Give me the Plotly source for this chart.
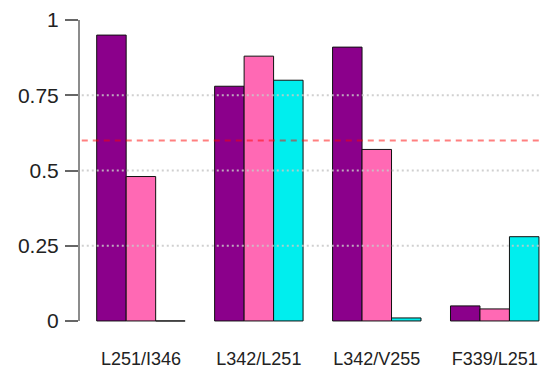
import plotly.graph_objects as go

# Pair labels and the three measured series
pairs = ["L251/I346", "L342/L251", "L342/V255", "F339/L251"]
series_a = [0.95, 0.78, 0.91, 0.05]
series_b = [0.48, 0.88, 0.57, 0.04]
series_c = [0.00, 0.80, 0.01, 0.28]
threshold = 0.60
y_ticks = [0, 0.25, 0.5, 0.75, 1]
y_tick_text = ["0", "0.25", "0.5", "0.75", "1"]
grid_levels = [0.25, 0.5, 0.75]

colors = ["#8B008B", "#FF69B4", "#00EEEE"]
offsets = [-1.5, -0.5, 0.5]

# group centres: 3 bars of width 1 plus a gap of 1 between groups
centers = [2.5 + 4 * i for i in range(len(pairs))]

fig = go.Figure()
for vals, col, off in zip([series_a, series_b, series_c], colors, offsets):
    fig.add_trace(go.Bar(
        x=centers, y=vals, width=1, offset=off,
        marker=dict(color=col, line=dict(color="#111111", width=1)),
        showlegend=False, hoverinfo="skip",
    ))

shapes = []
# dotted reference levels drawn over the bars
for g in grid_levels:
    shapes.append(dict(type="line", xref="paper", x0=0.006, x1=1, yref="y", y0=g, y1=g,
                       line=dict(color="rgba(200,200,200,0.85)", width=2, dash="2px,3px"),
                       layer="above"))
# threshold line
shapes.append(dict(type="line", xref="paper", x0=0.006, x1=1, yref="y", y0=threshold, y1=threshold,
                   line=dict(color="rgba(255,0,0,0.5)", width=2, dash="6px,5px"),
                   layer="above"))
# y axis spine spanning only the tick range
shapes.append(dict(type="line", xref="paper", x0=0, x1=0, yref="y", y0=y_ticks[0], y1=y_ticks[-1],
                   line=dict(color="#666666", width=1.5), layer="above"))

fig.update_layout(
    width=541, height=370,
    margin=dict(l=79, r=0, t=8, b=37),
    paper_bgcolor="white", plot_bgcolor="white",
    barmode="overlay",
    font=dict(family="Liberation Sans, Arial, sans-serif", color="#222222"),
    shapes=shapes,
    xaxis=dict(range=[0.4, 16.07], tickvals=centers, ticktext=pairs,
               showgrid=False, zeroline=False, showline=False, ticks="",
               tickfont=dict(size=18), ticklabelstandoff=13, automargin=False),
    yaxis=dict(range=[-0.04, 1.04], tickvals=y_ticks, ticktext=y_tick_text,
               showgrid=False, zeroline=False, showline=False,
               ticks="outside", ticklen=13, tickwidth=1.5, tickcolor="#666666",
               tickfont=dict(size=21), ticklabelstandoff=2, automargin=False),
)

fig.write_html("out.html")
